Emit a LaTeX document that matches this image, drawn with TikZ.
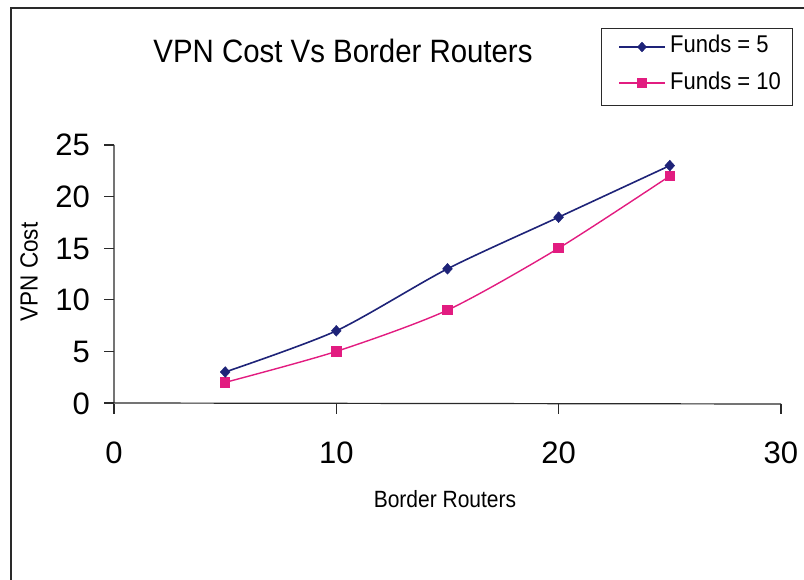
\documentclass[tikz,border=0pt]{standalone}
\usepackage{fontspec}
\setmainfont{Liberation Sans}
\usetikzlibrary{shapes.geometric}
\definecolor{navyline}{HTML}{1E2378}
\definecolor{pinkline}{HTML}{E21C80}
\definecolor{framegray}{HTML}{2A2A2A}
\newcommand{\fsz}[1]{\fontsize{#1}{#1}\selectfont}
\tikzset{
  chartframe/.style={draw=framegray, line width=1.3pt},
  axisline/.style={draw=framegray, line width=1.2pt},
  ticklabel/.style={inner sep=0pt, font=\fsz{31}},
  seriesA/.style={draw=navyline, line width=1.6pt},
  seriesB/.style={draw=pinkline, line width=1.4pt},
  markA/.style={diamond, fill=navyline, draw=navyline, inner sep=0pt, minimum width=10pt, minimum height=11pt},
  markB/.style={rectangle, fill=pinkline, inner sep=0pt, minimum size=10.5pt},
}
\begin{document}
\begin{tikzpicture}[x=1pt, y=-1pt]
  \useasboundingbox (0,0) rectangle (804,580);
  % outer chart frame
  \draw[chartframe] (11,580) -- (11,8) -- (804,8);
  % title
  \node[inner sep=0pt, anchor=base] (title) at (343,63)
    {\fsz{29.4}\scalebox{1}[1.1]{VPN Cost Vs Border Routers}};
  % legend
  \node[draw=framegray, line width=0.9pt, minimum width=191pt, minimum height=77pt, inner sep=0pt, anchor=north west] (legend) at (601,28) {};
  \coordinate (lA1) at (619,47); \coordinate (lA2) at (665,47);
  \coordinate (lB1) at (619,83); \coordinate (lB2) at (665,83);
  \draw[seriesA] (lA1) -- (lA2);
  \draw[seriesB] (lB1) -- (lB2);
  \node[markA, minimum width=9pt, minimum height=10pt] (legA) at (642,47) {};
  \node[markB, minimum size=9.5pt] (legB) at (642,83) {};
  \node[inner sep=0pt, anchor=base west] (legAt) at (670,53) {\fsz{22}\scalebox{1}[1.1]{Funds = 5}};
  \node[inner sep=0pt, anchor=base west] (legBt) at (670,90) {\fsz{22}\scalebox{1}[1.1]{Funds = 10}};
  % axes
  \coordinate (origin) at (114,403);
  \coordinate (ytop) at (114,145);
  \coordinate (xend) at (781,404);
  \draw[axisline] (ytop) -- (origin) -- (xend);
  % y ticks and labels: y(v) = 403 - 10.32 v
  \foreach \v in {0,5,...,25} {
    \pgfmathsetmacro{\yy}{403-10.32*\v}
    \draw[axisline] (104,\yy) -- (114,\yy);
    \node[ticklabel, anchor=base east] (ylab\v) at (90,\yy+11) {\v};
  }
  % x ticks and labels: x(u) = 114 + 22.23 u
  \foreach \u in {0,10,20,30} {
    \pgfmathsetmacro{\xx}{114+22.23*\u}
    \draw[axisline] (\xx,404) -- (\xx,414);
    \node[ticklabel, anchor=base] (xlab\u) at (\xx,463) {\u};
  }
  % axis titles
  \node[inner sep=0pt, rotate=90] (ytitle) at (29,272) {\fsz{22.5}\scalebox{1}[1.1]{VPN Cost}};
  \node[inner sep=0pt] (xtitle) at (445,499) {\fsz{21}\scalebox{1}[1.12]{Border Routers}};
  % data points, Funds = 5
  \coordinate (a1) at (225.2,372.0);
  \coordinate (a2) at (336.3,330.8);
  \coordinate (a3) at (447.5,268.8);
  \coordinate (a4) at (558.6,217.2);
  \coordinate (a5) at (669.8,165.6);
  % data points, Funds = 10
  \coordinate (b1) at (225.2,382.4);
  \coordinate (b2) at (336.3,351.4);
  \coordinate (b3) at (447.5,310.1);
  \coordinate (b4) at (558.6,248.2);
  \coordinate (b5) at (669.8,176.0);
  \draw[seriesB] plot[smooth, tension=0.45] coordinates {(b1) (b2) (b3) (b4) (b5)};
  \draw[seriesA] plot[smooth, tension=0.45] coordinates {(a1) (a2) (a3) (a4) (a5)};
  \foreach \i in {1,...,5} {
    \node[markB] (mb\i) at (b\i) {};
    \node[markA] (ma\i) at (a\i) {};
  }
\end{tikzpicture}
\end{document}
